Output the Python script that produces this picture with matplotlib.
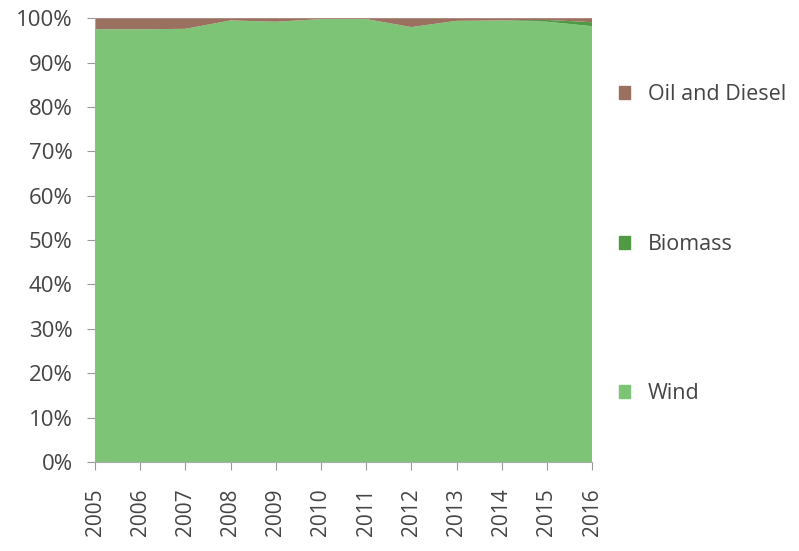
import matplotlib.pyplot as plt
from matplotlib.patches import Patch

years = [2005, 2006, 2007, 2008, 2009, 2010, 2011, 2012, 2013, 2014, 2015, 2016]
wind = [97.5, 97.5, 97.6, 99.5, 99.2, 99.8, 99.8, 98.0, 99.4, 99.5, 99.2, 98.2]
biomass = [0, 0, 0, 0, 0, 0, 0, 0, 0, 0, 0.4, 0.9]
oil = [100 - w - b for w, b in zip(wind, biomass)]

y_ticks = [0, 10, 20, 30, 40, 50, 60, 70, 80, 90, 100]
labels = ['Wind', 'Biomass', 'Oil and Diesel']
colors = ['#7dc476', '#4f9a43', '#9a7160']

plt.rcParams['font.family'] = ['Open Sans', 'DejaVu Sans']
text_color = '#444444'

fig = plt.figure(figsize=(7.99, 5.51), dpi=100)
ax = fig.add_axes([0.119, 0.1615, 0.622, 0.8055])

ax.stackplot(years, wind, biomass, oil, colors=colors, linewidth=0)

ax.set_xlim(2005, 2016)
ax.set_ylim(0, 100)
ax.set_xticks(years)
ax.set_xticklabels([str(y) for y in years], rotation=90)
ax.set_yticks(y_ticks)
ax.set_yticklabels([f'{t}%' for t in y_ticks])

for s in ['top', 'right']:
    ax.spines[s].set_visible(False)
for s in ['left', 'bottom']:
    ax.spines[s].set_color('#aaaaaa')
    ax.spines[s].set_linewidth(0.8)
ax.tick_params(axis='both', colors='#999999', labelcolor=text_color,
               length=6, width=0.8)
ax.tick_params(axis='x', labelsize=15, pad=13)
ax.tick_params(axis='y', labelsize=16, pad=10)

handles = [Patch(color=c) for c in colors]
leg = fig.legend(handles[::-1], labels[::-1], loc='upper left',
                 bbox_to_anchor=(0.75, 0.882), frameon=False,
                 fontsize=15.5, labelspacing=5.97, handlelength=0.55,
                 handleheight=0.55, handletextpad=0.8, labelcolor=text_color)

fig.savefig('out.png', dpi=100)
